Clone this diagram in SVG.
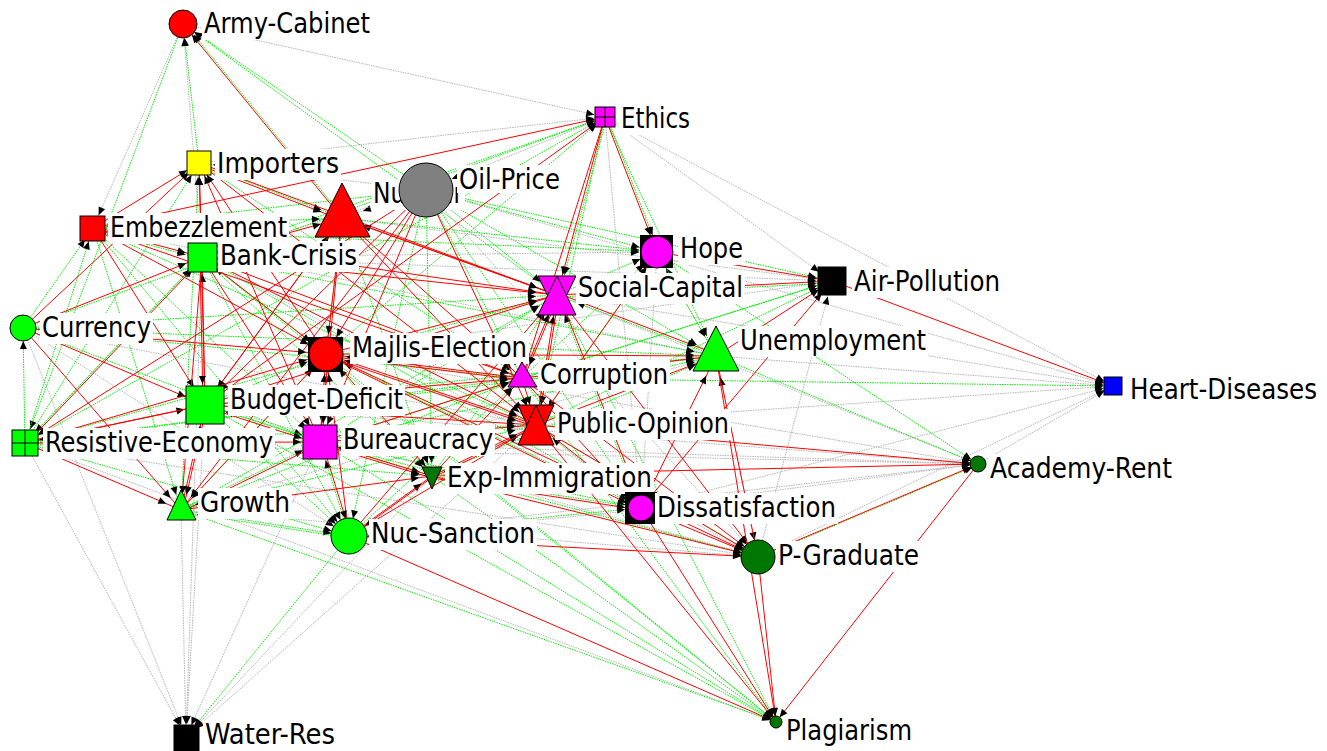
<svg xmlns="http://www.w3.org/2000/svg" xmlns:xlink="http://www.w3.org/1999/xlink" width="1327" height="751" viewBox="0 0 1327 751">
<style>
.r{stroke:#ff0000;stroke-width:1;fill:none}
.g{stroke:#00ee00;stroke-width:1;stroke-dasharray:1.5 1;fill:none}
.y{stroke:#b4b4b4;stroke-width:1;stroke-dasharray:1.5 1;fill:none}
.lb{fill:#fff}
.nd{stroke:#000;stroke-width:1}
.gl{stroke:#000;stroke-width:1}
text{font-family:"DejaVu Sans Condensed","DejaVu Sans",sans-serif;font-size:28px;fill:#000}
marker{overflow:visible}
.tAC{marker-end:url(#mAC)}.tET{marker-end:url(#mET)}.tIM{marker-end:url(#mIM)}.tNU{marker-end:url(#mNU)}.tOP{marker-end:url(#mOP)}
.tEM{marker-end:url(#mEM)}.tBC{marker-end:url(#mBC)}.tHO{marker-end:url(#mHO)}.tAP{marker-end:url(#mAP)}.tSC{marker-end:url(#mSC)}
.tCU{marker-end:url(#mCU)}.tME{marker-end:url(#mME)}.tUN{marker-end:url(#mUN)}.tCO{marker-end:url(#mCO)}.tHD{marker-end:url(#mHD)}
.tBD{marker-end:url(#mBD)}.tPO{marker-end:url(#mPO)}.tRE{marker-end:url(#mRE)}.tBU{marker-end:url(#mBU)}.tEI{marker-end:url(#mEI)}
.tAR{marker-end:url(#mAR)}.tGR{marker-end:url(#mGR)}.tDI{marker-end:url(#mDI)}.tNS{marker-end:url(#mNS)}.tPG{marker-end:url(#mPG)}
.tPL{marker-end:url(#mPL)}.tWR{marker-end:url(#mWR)}
</style>
<defs>
<path id="ah" d="M0,0 L-8,-3.5 L-8,3.5 Z" fill="#000"/>
<marker id="mAC" markerUnits="userSpaceOnUse" orient="auto" refX="14" refY="0" markerWidth="1" markerHeight="1" overflow="visible"><use xlink:href="#ah" href="#ah"/></marker>
<marker id="mET" markerUnits="userSpaceOnUse" orient="auto" refX="11" refY="0" markerWidth="1" markerHeight="1" overflow="visible"><use xlink:href="#ah" href="#ah"/></marker>
<marker id="mIM" markerUnits="userSpaceOnUse" orient="auto" refX="14" refY="0" markerWidth="1" markerHeight="1" overflow="visible"><use xlink:href="#ah" href="#ah"/></marker>
<marker id="mNU" markerUnits="userSpaceOnUse" orient="auto" refX="22" refY="0" markerWidth="1" markerHeight="1" overflow="visible"><use xlink:href="#ah" href="#ah"/></marker>
<marker id="mOP" markerUnits="userSpaceOnUse" orient="auto" refX="27" refY="0" markerWidth="1" markerHeight="1" overflow="visible"><use xlink:href="#ah" href="#ah"/></marker>
<marker id="mEM" markerUnits="userSpaceOnUse" orient="auto" refX="14" refY="0" markerWidth="1" markerHeight="1" overflow="visible"><use xlink:href="#ah" href="#ah"/></marker>
<marker id="mBC" markerUnits="userSpaceOnUse" orient="auto" refX="17" refY="0" markerWidth="1" markerHeight="1" overflow="visible"><use xlink:href="#ah" href="#ah"/></marker>
<marker id="mHO" markerUnits="userSpaceOnUse" orient="auto" refX="18" refY="0" markerWidth="1" markerHeight="1" overflow="visible"><use xlink:href="#ah" href="#ah"/></marker>
<marker id="mAP" markerUnits="userSpaceOnUse" orient="auto" refX="16" refY="0" markerWidth="1" markerHeight="1" overflow="visible"><use xlink:href="#ah" href="#ah"/></marker>
<marker id="mSC" markerUnits="userSpaceOnUse" orient="auto" refX="21" refY="0" markerWidth="1" markerHeight="1" overflow="visible"><use xlink:href="#ah" href="#ah"/></marker>
<marker id="mCU" markerUnits="userSpaceOnUse" orient="auto" refX="13" refY="0" markerWidth="1" markerHeight="1" overflow="visible"><use xlink:href="#ah" href="#ah"/></marker>
<marker id="mME" markerUnits="userSpaceOnUse" orient="auto" refX="20" refY="0" markerWidth="1" markerHeight="1" overflow="visible"><use xlink:href="#ah" href="#ah"/></marker>
<marker id="mUN" markerUnits="userSpaceOnUse" orient="auto" refX="22" refY="0" markerWidth="1" markerHeight="1" overflow="visible"><use xlink:href="#ah" href="#ah"/></marker>
<marker id="mCO" markerUnits="userSpaceOnUse" orient="auto" refX="14" refY="0" markerWidth="1" markerHeight="1" overflow="visible"><use xlink:href="#ah" href="#ah"/></marker>
<marker id="mHD" markerUnits="userSpaceOnUse" orient="auto" refX="10" refY="0" markerWidth="1" markerHeight="1" overflow="visible"><use xlink:href="#ah" href="#ah"/></marker>
<marker id="mBD" markerUnits="userSpaceOnUse" orient="auto" refX="21" refY="0" markerWidth="1" markerHeight="1" overflow="visible"><use xlink:href="#ah" href="#ah"/></marker>
<marker id="mPO" markerUnits="userSpaceOnUse" orient="auto" refX="21" refY="0" markerWidth="1" markerHeight="1" overflow="visible"><use xlink:href="#ah" href="#ah"/></marker>
<marker id="mRE" markerUnits="userSpaceOnUse" orient="auto" refX="15" refY="0" markerWidth="1" markerHeight="1" overflow="visible"><use xlink:href="#ah" href="#ah"/></marker>
<marker id="mBU" markerUnits="userSpaceOnUse" orient="auto" refX="19" refY="0" markerWidth="1" markerHeight="1" overflow="visible"><use xlink:href="#ah" href="#ah"/></marker>
<marker id="mEI" markerUnits="userSpaceOnUse" orient="auto" refX="13" refY="0" markerWidth="1" markerHeight="1" overflow="visible"><use xlink:href="#ah" href="#ah"/></marker>
<marker id="mAR" markerUnits="userSpaceOnUse" orient="auto" refX="8" refY="0" markerWidth="1" markerHeight="1" overflow="visible"><use xlink:href="#ah" href="#ah"/></marker>
<marker id="mGR" markerUnits="userSpaceOnUse" orient="auto" refX="16" refY="0" markerWidth="1" markerHeight="1" overflow="visible"><use xlink:href="#ah" href="#ah"/></marker>
<marker id="mDI" markerUnits="userSpaceOnUse" orient="auto" refX="16" refY="0" markerWidth="1" markerHeight="1" overflow="visible"><use xlink:href="#ah" href="#ah"/></marker>
<marker id="mNS" markerUnits="userSpaceOnUse" orient="auto" refX="18" refY="0" markerWidth="1" markerHeight="1" overflow="visible"><use xlink:href="#ah" href="#ah"/></marker>
<marker id="mPG" markerUnits="userSpaceOnUse" orient="auto" refX="17" refY="0" markerWidth="1" markerHeight="1" overflow="visible"><use xlink:href="#ah" href="#ah"/></marker>
<marker id="mPL" markerUnits="userSpaceOnUse" orient="auto" refX="6" refY="0" markerWidth="1" markerHeight="1" overflow="visible"><use xlink:href="#ah" href="#ah"/></marker>
<marker id="mWR" markerUnits="userSpaceOnUse" orient="auto" refX="13" refY="0" markerWidth="1" markerHeight="1" overflow="visible"><use xlink:href="#ah" href="#ah"/></marker>
</defs>
<rect width="1327" height="751" fill="#fff"/>
<g id="edges">
<line class="y tWR" x1="202" y1="257" x2="186" y2="737"/>
<line class="y tWR" x1="23" y1="328" x2="186" y2="737"/>
<line class="y tWR" x1="205" y1="405" x2="186" y2="737"/>
<line class="y tWR" x1="25" y1="443" x2="186" y2="737"/>
<line class="y tWR" x1="181" y1="510" x2="186" y2="737"/>
<line class="y tWR" x1="432" y1="476" x2="186" y2="737"/>
<line class="y tWR" x1="320" y1="442" x2="186" y2="737"/>
<line class="y tWR" x1="536" y1="425" x2="186" y2="737"/>
<line class="y tAC" x1="202" y1="257" x2="183" y2="24"/>
<line class="y tEM" x1="183" y1="24" x2="93" y2="228"/>
<line class="y tET" x1="183" y1="24" x2="605" y2="117"/>
<line class="y tET" x1="199" y1="163" x2="605" y2="117"/>
<line class="y tAP" x1="605" y1="117" x2="832" y2="281"/>
<line class="y tHD" x1="605" y1="117" x2="1113" y2="386"/>
<line class="y tDI" x1="605" y1="117" x2="641" y2="508"/>
<line class="y tOP" x1="605" y1="117" x2="426" y2="190"/>
<line class="y tNU" x1="426" y1="190" x2="342" y2="218"/>
<line class="y tAP" x1="342" y1="218" x2="832" y2="281"/>
<line class="y tBC" x1="426" y1="190" x2="202" y2="257"/>
<line class="y tPG" x1="426" y1="190" x2="758" y2="557"/>
<line class="y tHD" x1="426" y1="190" x2="1113" y2="386"/>
<line class="y tIM" x1="426" y1="190" x2="199" y2="163"/>
<line class="y tUN" x1="93" y1="228" x2="716" y2="356"/>
<line class="y tHO" x1="202" y1="257" x2="657" y2="252"/>
<line class="y tAP" x1="202" y1="257" x2="832" y2="281"/>
<line class="y tPG" x1="202" y1="257" x2="758" y2="557"/>
<line class="y tHO" x1="716" y1="356" x2="657" y2="252"/>
<line class="y tDI" x1="657" y1="252" x2="641" y2="508"/>
<line class="y tAP" x1="758" y1="557" x2="832" y2="281"/>
<line class="y tAP" x1="326" y1="354" x2="832" y2="281"/>
<line class="y tAR" x1="557" y1="295" x2="978" y2="464"/>
<line class="y tHD" x1="557" y1="295" x2="1113" y2="386"/>
<line class="y tNS" x1="23" y1="328" x2="349" y2="536"/>
<line class="y tAR" x1="326" y1="354" x2="978" y2="464"/>
<line class="y tUN" x1="181" y1="510" x2="716" y2="356"/>
<line class="y tPG" x1="716" y1="356" x2="758" y2="557"/>
<line class="y tHD" x1="536" y1="425" x2="1113" y2="386"/>
<line class="y tHD" x1="716" y1="356" x2="1113" y2="386"/>
<line class="y tHD" x1="641" y1="508" x2="1113" y2="386"/>
<line class="y tHD" x1="758" y1="557" x2="1113" y2="386"/>
<line class="y tHD" x1="978" y1="464" x2="1113" y2="386"/>
<line class="y tAR" x1="205" y1="405" x2="978" y2="464"/>
<line class="y tPG" x1="205" y1="405" x2="758" y2="557"/>
<line class="y tPL" x1="25" y1="443" x2="776" y2="722"/>
<line class="y tPG" x1="25" y1="443" x2="758" y2="557"/>
<line class="y tAR" x1="25" y1="443" x2="978" y2="464"/>
<line class="y tAR" x1="320" y1="442" x2="978" y2="464"/>
<line class="y tAR" x1="641" y1="508" x2="978" y2="464"/>
<line class="y tAR" x1="349" y1="536" x2="978" y2="464"/>
<line class="y tPG" x1="181" y1="510" x2="758" y2="557"/>
<line class="y tNS" x1="641" y1="510" x2="349" y2="538"/>
<line class="y tPO" x1="23" y1="328" x2="536" y2="425"/>
<line class="g tAC" x1="199" y1="163" x2="183" y2="24"/>
<line class="g tAC" x1="344" y1="218" x2="185" y2="24"/>
<line class="g tAC" x1="426" y1="190" x2="183" y2="24"/>
<line class="g tAC" x1="557" y1="295" x2="183" y2="24"/>
<line class="g tRE" x1="183" y1="24" x2="25" y2="443"/>
<line class="g tET" x1="202" y1="257" x2="605" y2="117"/>
<line class="g tET" x1="326" y1="354" x2="605" y2="117"/>
<line class="g tET" x1="23" y1="328" x2="605" y2="117"/>
<line class="g tET" x1="25" y1="443" x2="605" y2="117"/>
<line class="g tSC" x1="607" y1="117" x2="559" y2="295"/>
<line class="g tHO" x1="607" y1="117" x2="659" y2="252"/>
<line class="g tPO" x1="605" y1="117" x2="536" y2="425"/>
<line class="g tUN" x1="605" y1="117" x2="716" y2="356"/>
<line class="g tIM" x1="25" y1="443" x2="199" y2="163"/>
<line class="g tIM" x1="181" y1="510" x2="199" y2="163"/>
<line class="g tNU" x1="199" y1="163" x2="342" y2="218"/>
<line class="g tCO" x1="199" y1="163" x2="522" y2="378"/>
<line class="g tNU" x1="93" y1="228" x2="342" y2="218"/>
<line class="g tNU" x1="326" y1="354" x2="342" y2="218"/>
<line class="g tHO" x1="342" y1="218" x2="657" y2="252"/>
<line class="g tEI" x1="342" y1="218" x2="432" y2="476"/>
<line class="g tSC" x1="426" y1="190" x2="557" y2="295"/>
<line class="g tHO" x1="426" y1="190" x2="657" y2="252"/>
<line class="g tAP" x1="426" y1="190" x2="832" y2="281"/>
<line class="g tUN" x1="426" y1="190" x2="716" y2="356"/>
<line class="g tCO" x1="426" y1="190" x2="522" y2="378"/>
<line class="g tDI" x1="426" y1="190" x2="641" y2="508"/>
<line class="g tNS" x1="426" y1="190" x2="349" y2="536"/>
<line class="g tEI" x1="426" y1="190" x2="432" y2="476"/>
<line class="g tEM" x1="426" y1="190" x2="93" y2="228"/>
<line class="g tEM" x1="23" y1="328" x2="93" y2="228"/>
<line class="g tEM" x1="25" y1="443" x2="93" y2="228"/>
<line class="g tBC" x1="93" y1="230" x2="202" y2="259"/>
<line class="g tGR" x1="93" y1="228" x2="181" y2="510"/>
<line class="g tBU" x1="93" y1="228" x2="320" y2="442"/>
<line class="g tNS" x1="93" y1="228" x2="349" y2="536"/>
<line class="g tHO" x1="93" y1="228" x2="657" y2="252"/>
<line class="g tBC" x1="25" y1="443" x2="202" y2="257"/>
<line class="g tBC" x1="326" y1="354" x2="202" y2="257"/>
<line class="g tNS" x1="202" y1="257" x2="349" y2="536"/>
<line class="g tEI" x1="202" y1="257" x2="432" y2="476"/>
<line class="g tDI" x1="202" y1="257" x2="641" y2="508"/>
<line class="g tPL" x1="202" y1="257" x2="776" y2="722"/>
<line class="g tHO" x1="557" y1="295" x2="657" y2="252"/>
<line class="g tHO" x1="522" y1="378" x2="657" y2="252"/>
<line class="g tUN" x1="657" y1="252" x2="716" y2="356"/>
<line class="g tAR" x1="657" y1="252" x2="978" y2="464"/>
<line class="g tPO" x1="657" y1="252" x2="536" y2="425"/>
<line class="g tAP" x1="557" y1="297" x2="832" y2="283"/>
<line class="g tAP" x1="522" y1="378" x2="832" y2="281"/>
<line class="g tAP" x1="536" y1="425" x2="832" y2="281"/>
<line class="g tAP" x1="320" y1="442" x2="832" y2="281"/>
<line class="g tSC" x1="320" y1="442" x2="557" y2="295"/>
<line class="g tSC" x1="181" y1="510" x2="557" y2="295"/>
<line class="g tSC" x1="432" y1="476" x2="557" y2="295"/>
<line class="g tSC" x1="641" y1="508" x2="557" y2="295"/>
<line class="g tSC" x1="716" y1="356" x2="557" y2="295"/>
<line class="g tSC" x1="23" y1="328" x2="557" y2="295"/>
<line class="g tSC" x1="25" y1="443" x2="557" y2="295"/>
<line class="g tPL" x1="557" y1="295" x2="776" y2="722"/>
<line class="g tCU" x1="25" y1="443" x2="23" y2="328"/>
<line class="g tBU" x1="23" y1="328" x2="320" y2="442"/>
<line class="g tUN" x1="23" y1="328" x2="716" y2="356"/>
<line class="g tCO" x1="23" y1="328" x2="522" y2="378"/>
<line class="g tME" x1="205" y1="405" x2="326" y2="354"/>
<line class="g tME" x1="181" y1="510" x2="326" y2="354"/>
<line class="g tME" x1="432" y1="476" x2="326" y2="354"/>
<line class="g tME" x1="641" y1="508" x2="326" y2="354"/>
<line class="g tPL" x1="326" y1="354" x2="776" y2="722"/>
<line class="g tUN" x1="320" y1="442" x2="716" y2="356"/>
<line class="g tUN" x1="25" y1="443" x2="716" y2="356"/>
<line class="g tUN" x1="432" y1="476" x2="716" y2="356"/>
<line class="g tUN" x1="205" y1="405" x2="716" y2="356"/>
<line class="g tUN" x1="202" y1="257" x2="716" y2="356"/>
<line class="g tAR" x1="716" y1="356" x2="978" y2="464"/>
<line class="g tCO" x1="25" y1="443" x2="522" y2="378"/>
<line class="g tCO" x1="181" y1="510" x2="522" y2="378"/>
<line class="g tCO" x1="349" y1="536" x2="522" y2="378"/>
<line class="g tPL" x1="522" y1="378" x2="776" y2="722"/>
<line class="g tHD" x1="522" y1="378" x2="1113" y2="386"/>
<line class="g tBD" x1="320" y1="442" x2="205" y2="405"/>
<line class="g tEI" x1="205" y1="405" x2="432" y2="476"/>
<line class="g tNS" x1="205" y1="405" x2="349" y2="536"/>
<line class="g tPL" x1="205" y1="405" x2="776" y2="722"/>
<line class="g tPO" x1="641" y1="508" x2="536" y2="425"/>
<line class="g tPO" x1="758" y1="557" x2="536" y2="425"/>
<line class="g tPO" x1="93" y1="228" x2="536" y2="425"/>
<line class="g tPO" x1="25" y1="443" x2="536" y2="425"/>
<line class="g tPO" x1="181" y1="510" x2="536" y2="425"/>
<line class="g tNS" x1="25" y1="443" x2="349" y2="536"/>
<line class="g tEI" x1="25" y1="443" x2="432" y2="476"/>
<line class="g tBU" x1="181" y1="510" x2="320" y2="442"/>
<line class="g tBU" x1="349" y1="536" x2="320" y2="442"/>
<line class="g tPG" x1="320" y1="442" x2="758" y2="557"/>
<line class="g tPL" x1="320" y1="442" x2="776" y2="722"/>
<line class="g tDI" x1="320" y1="442" x2="641" y2="508"/>
<line class="g tEI" x1="641" y1="508" x2="432" y2="476"/>
<line class="g tPL" x1="432" y1="476" x2="776" y2="722"/>
<line class="g tAR" x1="760" y1="557" x2="980" y2="464"/>
<line class="g tNS" x1="181" y1="510" x2="349" y2="536"/>
<line class="g tPL" x1="181" y1="510" x2="776" y2="722"/>
<line class="g tGR" x1="349" y1="538" x2="181" y2="512"/>
<line class="g tDI" x1="349" y1="536" x2="641" y2="508"/>
<line class="g tWR" x1="349" y1="536" x2="186" y2="737"/>
<line class="g tRE" x1="202" y1="257" x2="25" y2="443"/>
<line class="r tAC" x1="342" y1="218" x2="183" y2="24"/>
<line class="r tET" x1="93" y1="228" x2="605" y2="117"/>
<line class="r tET" x1="205" y1="405" x2="605" y2="117"/>
<line class="r tSC" x1="605" y1="117" x2="557" y2="295"/>
<line class="r tHO" x1="605" y1="117" x2="657" y2="252"/>
<line class="r tCO" x1="605" y1="117" x2="522" y2="378"/>
<line class="r tIM" x1="202" y1="257" x2="199" y2="163"/>
<line class="r tIM" x1="93" y1="228" x2="199" y2="163"/>
<line class="r tIM" x1="205" y1="405" x2="199" y2="163"/>
<line class="r tIM" x1="326" y1="354" x2="199" y2="163"/>
<line class="r tIM" x1="23" y1="328" x2="199" y2="163"/>
<line class="r tIM" x1="320" y1="442" x2="199" y2="163"/>
<line class="r tNU" x1="199" y1="165" x2="342" y2="220"/>
<line class="r tSC" x1="199" y1="163" x2="557" y2="295"/>
<line class="r tPO" x1="199" y1="163" x2="536" y2="425"/>
<line class="r tNU" x1="202" y1="257" x2="342" y2="218"/>
<line class="r tNU" x1="205" y1="405" x2="342" y2="218"/>
<line class="r tNU" x1="557" y1="295" x2="342" y2="218"/>
<line class="r tSC" x1="342" y1="218" x2="557" y2="295"/>
<line class="r tME" x1="342" y1="218" x2="326" y2="354"/>
<line class="r tPO" x1="342" y1="218" x2="536" y2="425"/>
<line class="r tBU" x1="342" y1="218" x2="320" y2="442"/>
<line class="r tCO" x1="342" y1="218" x2="522" y2="378"/>
<line class="r tBD" x1="342" y1="218" x2="205" y2="405"/>
<line class="r tME" x1="426" y1="190" x2="326" y2="354"/>
<line class="r tBD" x1="426" y1="190" x2="205" y2="405"/>
<line class="r tPO" x1="426" y1="190" x2="536" y2="425"/>
<line class="r tGR" x1="426" y1="190" x2="181" y2="510"/>
<line class="r tBU" x1="426" y1="190" x2="320" y2="442"/>
<line class="r tRE" x1="426" y1="190" x2="25" y2="443"/>
<line class="r tBC" x1="93" y1="228" x2="202" y2="257"/>
<line class="r tSC" x1="93" y1="228" x2="557" y2="295"/>
<line class="r tME" x1="93" y1="228" x2="326" y2="354"/>
<line class="r tBD" x1="93" y1="228" x2="205" y2="405"/>
<line class="r tCO" x1="93" y1="228" x2="522" y2="378"/>
<line class="r tBC" x1="23" y1="328" x2="202" y2="257"/>
<line class="r tBC" x1="27" y1="443" x2="204" y2="257"/>
<line class="r tBC" x1="205" y1="405" x2="202" y2="257"/>
<line class="r tSC" x1="202" y1="257" x2="557" y2="295"/>
<line class="r tME" x1="202" y1="257" x2="326" y2="354"/>
<line class="r tBD" x1="200" y1="257" x2="203" y2="405"/>
<line class="r tPO" x1="202" y1="257" x2="536" y2="425"/>
<line class="r tCO" x1="202" y1="257" x2="522" y2="378"/>
<line class="r tGR" x1="202" y1="257" x2="181" y2="510"/>
<line class="r tBU" x1="202" y1="257" x2="320" y2="442"/>
<line class="r tHO" x1="536" y1="425" x2="657" y2="252"/>
<line class="r tAP" x1="657" y1="252" x2="832" y2="281"/>
<line class="r tAP" x1="557" y1="295" x2="832" y2="281"/>
<line class="r tAP" x1="716" y1="356" x2="832" y2="281"/>
<line class="r tAP" x1="641" y1="508" x2="832" y2="281"/>
<line class="r tHD" x1="832" y1="281" x2="1113" y2="386"/>
<line class="r tSC" x1="205" y1="405" x2="557" y2="295"/>
<line class="r tSC" x1="326" y1="354" x2="557" y2="295"/>
<line class="r tSC" x1="349" y1="536" x2="557" y2="295"/>
<line class="r tSC" x1="522" y1="378" x2="557" y2="295"/>
<line class="r tSC" x1="536" y1="425" x2="557" y2="295"/>
<line class="r tUN" x1="557" y1="293" x2="716" y2="354"/>
<line class="r tPO" x1="559" y1="295" x2="538" y2="425"/>
<line class="r tCO" x1="559" y1="295" x2="524" y2="378"/>
<line class="r tDI" x1="559" y1="295" x2="643" y2="508"/>
<line class="r tPG" x1="557" y1="295" x2="758" y2="557"/>
<line class="r tME" x1="23" y1="328" x2="326" y2="354"/>
<line class="r tBD" x1="23" y1="328" x2="205" y2="405"/>
<line class="r tGR" x1="23" y1="328" x2="181" y2="510"/>
<line class="r tME" x1="25" y1="443" x2="326" y2="354"/>
<line class="r tME" x1="320" y1="442" x2="326" y2="354"/>
<line class="r tME" x1="536" y1="425" x2="326" y2="354"/>
<line class="r tME" x1="522" y1="378" x2="326" y2="354"/>
<line class="r tME" x1="349" y1="536" x2="326" y2="354"/>
<line class="r tPO" x1="326" y1="356" x2="536" y2="427"/>
<line class="r tCO" x1="326" y1="356" x2="522" y2="380"/>
<line class="r tUN" x1="326" y1="354" x2="716" y2="356"/>
<line class="r tBU" x1="328" y1="354" x2="322" y2="442"/>
<line class="r tEI" x1="328" y1="354" x2="434" y2="476"/>
<line class="r tDI" x1="328" y1="356" x2="641" y2="510"/>
<line class="r tPG" x1="326" y1="354" x2="758" y2="557"/>
<line class="r tUN" x1="522" y1="378" x2="716" y2="356"/>
<line class="r tUN" x1="536" y1="425" x2="716" y2="356"/>
<line class="r tUN" x1="641" y1="508" x2="716" y2="356"/>
<line class="r tUN" x1="758" y1="557" x2="716" y2="356"/>
<line class="r tPL" x1="716" y1="356" x2="776" y2="722"/>
<line class="r tCO" x1="205" y1="405" x2="522" y2="378"/>
<line class="r tCO" x1="320" y1="442" x2="522" y2="378"/>
<line class="r tCO" x1="432" y1="476" x2="522" y2="378"/>
<line class="r tPO" x1="522" y1="378" x2="536" y2="425"/>
<line class="r tDI" x1="522" y1="378" x2="641" y2="508"/>
<line class="r tPG" x1="522" y1="378" x2="758" y2="557"/>
<line class="r tBD" x1="25" y1="443" x2="205" y2="405"/>
<line class="r tBD" x1="181" y1="510" x2="205" y2="405"/>
<line class="r tPO" x1="205" y1="405" x2="536" y2="425"/>
<line class="r tGR" x1="207" y1="405" x2="183" y2="510"/>
<line class="r tBU" x1="205" y1="407" x2="320" y2="444"/>
<line class="r tPO" x1="320" y1="442" x2="536" y2="425"/>
<line class="r tPO" x1="432" y1="476" x2="536" y2="425"/>
<line class="r tPO" x1="349" y1="536" x2="536" y2="425"/>
<line class="r tDI" x1="538" y1="425" x2="643" y2="508"/>
<line class="r tPG" x1="536" y1="425" x2="758" y2="557"/>
<line class="r tPL" x1="536" y1="425" x2="776" y2="722"/>
<line class="r tAR" x1="536" y1="425" x2="978" y2="464"/>
<line class="r tEI" x1="536" y1="427" x2="432" y2="478"/>
<line class="r tGR" x1="25" y1="443" x2="181" y2="510"/>
<line class="r tBU" x1="25" y1="443" x2="320" y2="442"/>
<line class="r tBU" x1="432" y1="476" x2="320" y2="442"/>
<line class="r tNS" x1="322" y1="442" x2="351" y2="536"/>
<line class="r tEI" x1="320" y1="444" x2="432" y2="478"/>
<line class="r tGR" x1="320" y1="444" x2="181" y2="512"/>
<line class="r tEI" x1="181" y1="510" x2="432" y2="476"/>
<line class="r tEI" x1="349" y1="536" x2="432" y2="476"/>
<line class="r tAR" x1="432" y1="476" x2="978" y2="464"/>
<line class="r tPG" x1="432" y1="476" x2="758" y2="557"/>
<line class="r tDI" x1="432" y1="478" x2="641" y2="510"/>
<line class="r tNS" x1="434" y1="476" x2="351" y2="536"/>
<line class="r tAR" x1="758" y1="557" x2="978" y2="464"/>
<line class="r tPL" x1="978" y1="464" x2="776" y2="722"/>
<line class="r tGR" x1="326" y1="354" x2="181" y2="510"/>
<line class="r tPG" x1="641" y1="508" x2="758" y2="557"/>
<line class="r tPL" x1="641" y1="508" x2="776" y2="722"/>
<line class="r tPG" x1="349" y1="536" x2="758" y2="557"/>
<line class="r tPL" x1="349" y1="536" x2="776" y2="722"/>
<line class="r tPL" x1="758" y1="557" x2="776" y2="722"/>
<line class="r tRE" x1="205" y1="405" x2="25" y2="443"/>
</g>
<g id="n-AC"><circle class="nd" cx="183" cy="24" r="14" fill="#ff0000"/><rect class="lb" x="202" y="9" width="170" height="31"/><text x="204" y="33" textLength="166" lengthAdjust="spacingAndGlyphs">Army-Cabinet</text></g>
<g id="n-ET"><rect class="nd" x="595" y="107" width="20" height="20" fill="#ff00ff"/><line class="gl" x1="605" y1="107" x2="605" y2="127"/><line class="gl" x1="595" y1="117" x2="615" y2="117"/><rect class="lb" x="619" y="104" width="73" height="31"/><text x="621" y="128" textLength="69" lengthAdjust="spacingAndGlyphs">Ethics</text></g>
<g id="n-IM"><rect class="nd" x="187" y="151" width="24" height="24" fill="#ffff00"/><rect class="lb" x="215" y="149" width="126" height="31"/><text x="217" y="173" textLength="122" lengthAdjust="spacingAndGlyphs">Importers</text></g>
<g id="n-NU"><polygon class="nd" points="342,183 370,237 315,237" fill="#ff0000"/><rect class="lb" x="371" y="179" width="94" height="31"/><text x="373" y="203" textLength="90" lengthAdjust="spacingAndGlyphs">Nuclear</text></g>
<g id="n-OP"><circle class="nd" cx="426" cy="190" r="27" fill="#808080"/><rect class="lb" x="457" y="165" width="105" height="28"/><text x="459" y="189" textLength="101" lengthAdjust="spacingAndGlyphs">Oil-Price</text></g>
<g id="n-EM"><rect class="nd" x="80" y="216" width="25" height="25" fill="#ff0000"/><rect class="lb" x="108" y="213" width="181" height="31"/><text x="110" y="237" textLength="177" lengthAdjust="spacingAndGlyphs">Embezzlement</text></g>
<g id="n-BC"><rect class="nd" x="188" y="243" width="29" height="29" fill="#00ff00"/><rect class="lb" x="218" y="241" width="141" height="31"/><text x="220" y="265" textLength="137" lengthAdjust="spacingAndGlyphs">Bank-Crisis</text></g>
<g id="n-HO"><rect x="640" y="235" width="33" height="33" fill="#000"/><circle class="nd" cx="657" cy="252" r="16" fill="#ff00ff"/><rect class="lb" x="678" y="234" width="67" height="31"/><text x="680" y="258" textLength="63" lengthAdjust="spacingAndGlyphs">Hope</text></g>
<g id="n-AP"><rect class="nd" x="818" y="267" width="28" height="28" fill="#000"/><rect class="lb" x="852" y="267" width="150" height="31"/><text x="854" y="291" textLength="146" lengthAdjust="spacingAndGlyphs">Air-Pollution</text></g>
<g id="n-SC"><polygon class="nd" points="538,276 576,276 557,315" fill="#ff00ff"/><polygon class="nd" points="557,276 576,315 538,315" fill="#ff00ff"/><rect class="lb" x="576" y="273" width="169" height="31"/><text x="578" y="297" textLength="165" lengthAdjust="spacingAndGlyphs">Social-Capital</text></g>
<g id="n-CU"><circle class="nd" cx="23" cy="328" r="13" fill="#00ff00"/><rect class="lb" x="40" y="313" width="113" height="31"/><text x="42" y="337" textLength="109" lengthAdjust="spacingAndGlyphs">Currency</text></g>
<g id="n-ME"><rect x="308" y="337" width="35" height="35" fill="#000"/><circle class="nd" cx="326" cy="354" r="17" fill="#ff0000"/><rect class="lb" x="350" y="333" width="179" height="31"/><text x="352" y="357" textLength="175" lengthAdjust="spacingAndGlyphs">Majlis-Election</text></g>
<g id="n-UN"><polygon class="nd" points="716,326 739,371 693,371" fill="#00ff00"/><rect class="lb" x="738" y="326" width="190" height="31"/><text x="740" y="350" textLength="186" lengthAdjust="spacingAndGlyphs">Unemployment</text></g>
<g id="n-CO"><polygon class="nd" points="522,362 537,387 508,387" fill="#ff00ff"/><rect class="lb" x="538" y="360" width="132" height="31"/><text x="540" y="384" textLength="128" lengthAdjust="spacingAndGlyphs">Corruption</text></g>
<g id="n-HD"><rect class="nd" x="1104" y="377" width="18" height="18" fill="#0000ff"/><rect class="lb" x="1128" y="375" width="191" height="31"/><text x="1130" y="399" textLength="187" lengthAdjust="spacingAndGlyphs">Heart-Diseases</text></g>
<g id="n-BD"><rect class="nd" x="186" y="386" width="38" height="38" fill="#00ff00"/><rect class="lb" x="228" y="385" width="177" height="31"/><text x="230" y="409" textLength="173" lengthAdjust="spacingAndGlyphs">Budget-Deficit</text></g>
<g id="n-PO"><polygon class="nd" points="518,405 554,405 536,445" fill="#ff0000"/><polygon class="nd" points="536,405 554,445 518,445" fill="#ff0000"/><rect class="lb" x="555" y="409" width="176" height="31"/><text x="557" y="433" textLength="172" lengthAdjust="spacingAndGlyphs">Public-Opinion</text></g>
<g id="n-RE"><rect class="nd" x="12" y="430" width="26" height="26" fill="#00ff00"/><line class="gl" x1="25" y1="430" x2="25" y2="456"/><line class="gl" x1="12" y1="443" x2="38" y2="443"/><rect class="lb" x="43" y="428" width="232" height="31"/><text x="45" y="452" textLength="228" lengthAdjust="spacingAndGlyphs">Resistive-Economy</text></g>
<g id="n-BU"><rect class="nd" x="303" y="425" width="34" height="34" fill="#ff00ff"/><rect class="lb" x="341" y="425" width="154" height="31"/><text x="343" y="449" textLength="150" lengthAdjust="spacingAndGlyphs">Bureaucracy</text></g>
<g id="n-EI"><polygon class="nd" points="422,467 442,467 432,489" fill="#007700"/><rect class="lb" x="445" y="463" width="209" height="31"/><text x="447" y="487" textLength="205" lengthAdjust="spacingAndGlyphs">Exp-Immigration</text></g>
<g id="n-AR"><circle class="nd" cx="978" cy="464" r="8" fill="#007700"/><rect class="lb" x="988" y="454" width="186" height="31"/><text x="990" y="478" textLength="182" lengthAdjust="spacingAndGlyphs">Academy-Rent</text></g>
<g id="n-GR"><polygon class="nd" points="181,490 196,520 167,520" fill="#00ff00"/><rect class="lb" x="198" y="488" width="94" height="31"/><text x="200" y="512" textLength="90" lengthAdjust="spacingAndGlyphs">Growth</text></g>
<g id="n-DI"><rect x="625" y="492" width="32" height="32" fill="#000"/><circle class="nd" cx="641" cy="508" r="13" fill="#ff00ff"/><rect class="lb" x="655" y="493" width="183" height="31"/><text x="657" y="517" textLength="179" lengthAdjust="spacingAndGlyphs">Dissatisfaction</text></g>
<g id="n-NS"><circle class="nd" cx="349" cy="536" r="18" fill="#00ff00"/><rect class="lb" x="369" y="519" width="168" height="31"/><text x="371" y="543" textLength="164" lengthAdjust="spacingAndGlyphs">Nuc-Sanction</text></g>
<g id="n-PG"><circle class="nd" cx="758" cy="557" r="17" fill="#007700"/><rect class="lb" x="776" y="541" width="145" height="31"/><text x="778" y="565" textLength="141" lengthAdjust="spacingAndGlyphs">P-Graduate</text></g>
<g id="n-PL"><circle class="nd" cx="776" cy="722" r="6" fill="#007700"/><rect class="lb" x="784" y="716" width="130" height="31"/><text x="786" y="740" textLength="126" lengthAdjust="spacingAndGlyphs">Plagiarism</text></g>
<g id="n-WR"><rect class="nd" x="174" y="725" width="25" height="26" fill="#000"/><rect class="lb" x="203" y="721" width="134" height="30"/><text x="205" y="744" textLength="130" lengthAdjust="spacingAndGlyphs">Water-Res</text></g>
</svg>
